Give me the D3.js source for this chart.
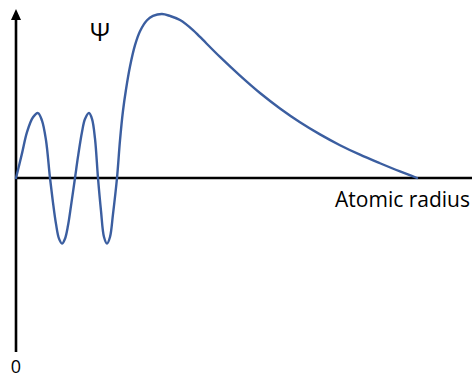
<!DOCTYPE html>
<html>
<head>
<meta charset="utf-8">
<script src="https://cdn.jsdelivr.net/npm/d3@7"></script>
<style>
  html, body { margin: 0; padding: 0; background: #fff; }
  svg { display: block; }
  text { font-family: "Open Sans", "Liberation Sans", sans-serif; fill: #000; }
</style>
</head>
<body>
<svg id="chart" width="472" height="378"></svg>
<script>
// Radial distance samples (arbitrary units from the nucleus)
const radius = [
  0, 6, 11, 17, 22, 26, 30, 34,
  37, 40, 43, 46, 49, 52, 55, 59,
  62, 66, 69, 73, 76, 79, 82,
  85, 88, 91, 94, 97, 101,
  104, 107, 110, 114, 119, 124, 131, 137, 146, 154, 164, 177, 184,
  204, 224, 244, 264, 284, 304, 324, 344, 364, 384, 401
];
// Wavefunction amplitude at each radius (normalised to the outer maximum)
const psi = [
  0, 0.15, 0.28, 0.37, 0.396, 0.35, 0.23, 0,
  -0.15, -0.28, -0.37, -0.40, -0.37, -0.29, -0.17, 0,
  0.13, 0.28, 0.36, 0.396, 0.36, 0.24, 0,
  -0.20, -0.36, -0.40, -0.36, -0.22, 0,
  0.23, 0.41, 0.54, 0.68, 0.81, 0.895, 0.962, 0.988, 1.0, 0.988, 0.963, 0.902, 0.860,
  0.738, 0.624, 0.518, 0.424, 0.340, 0.266, 0.200, 0.142, 0.090, 0.040, 0
];

const labels = { yName: "\u03A8", xName: "Atomic radius", origin: "0" };

const svg = d3.select("#chart");
const W = 472;

const x = d3.scaleLinear().domain([0, 456]).range([16, 472]);
const y = d3.scaleLinear().domain([-1.061, 1]).range([352, 14]);

const axisX = x(0);

// Vertical axis (Ψ)
svg.append("line")
  .attr("x1", axisX).attr("x2", axisX)
  .attr("y1", y(-1.061)).attr("y2", 19)
  .attr("stroke", "#000").attr("stroke-width", 2.6);

// Arrowhead on top of the vertical axis
svg.append("path")
  .attr("d", `M${axisX},9 L${axisX + 5},20 L${axisX - 5},20 Z`)
  .attr("fill", "#000");

// Horizontal axis at Ψ = 0
svg.append("line")
  .attr("x1", axisX).attr("x2", W)
  .attr("y1", y(0)).attr("y2", y(0))
  .attr("stroke", "#000").attr("stroke-width", 2.6);

// Wavefunction curve
const pts = radius.map((r, i) => [r, psi[i]]);
const line = d3.line()
  .x(d => x(d[0]))
  .y(d => y(d[1]))
  .curve(d3.curveCatmullRom.alpha(0.5));

svg.append("path")
  .datum(pts)
  .attr("d", line)
  .attr("fill", "none")
  .attr("stroke", "#3b5ea0")
  .attr("stroke-width", 2.4)
  .attr("stroke-linejoin", "round")
  .attr("stroke-linecap", "round");

// Labels
svg.append("text")
  .attr("x", 100).attr("y", 41)
  .attr("text-anchor", "middle")
  .attr("font-family", "DejaVu Sans")
  .attr("font-size", 25)
  .text(labels.yName);

svg.append("text")
  .attr("x", 470).attr("y", 207)
  .attr("text-anchor", "end")
  .attr("font-size", 21)
  .text(labels.xName);

svg.append("text")
  .attr("x", 16).attr("y", 373)
  .attr("text-anchor", "middle")
  .attr("font-size", 18)
  .text(labels.origin);
</script>
</body>
</html>
